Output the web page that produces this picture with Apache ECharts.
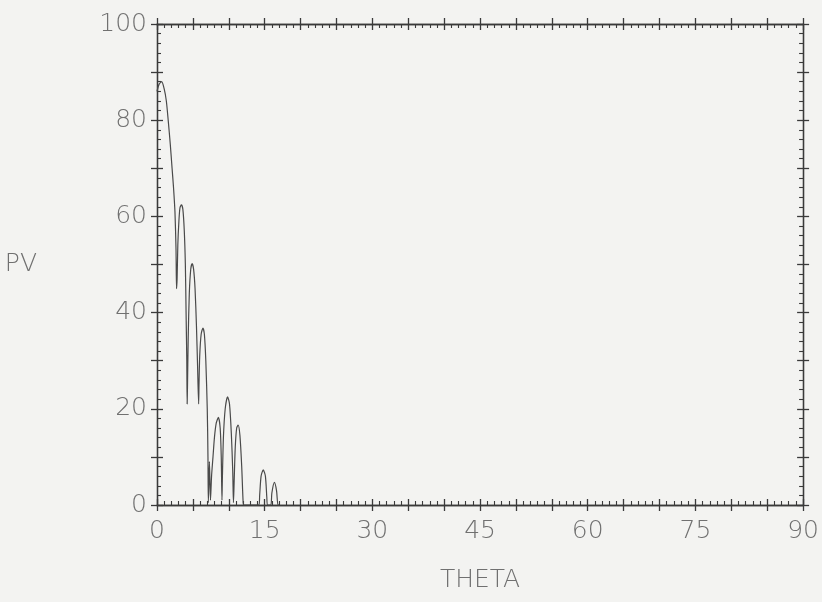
<!DOCTYPE html>
<html>
<head>
<meta charset="utf-8">
<script src="https://cdn.jsdelivr.net/npm/echarts@6/dist/echarts.min.js"></script>
<style>
  html, body { margin: 0; padding: 0; background: #f3f3f1; }
  #chart { width: 822px; height: 602px; }
</style>
</head>
<body>
<div id="chart"></div>
<script>
// Angle (degrees) and PV readings along the trace
const theta = [
  0, 0.3, 0.65, 1.0, 1.3, 1.56, 1.85, 2.1, 2.3, 2.5, 2.65, 2.72,
  2.8, 2.9, 3.05, 3.2, 3.4, 3.6, 3.8, 3.95, 4.05, 4.15, 4.2,
  4.25, 4.35, 4.5, 4.7, 4.9, 5.1, 5.3, 5.5, 5.65, 5.8,
  5.85, 5.95, 6.15, 6.4, 6.6, 6.8, 7.0, 7.1, 7.15,
  7.3, 7.45, 7.6, 7.8, 8.0, 8.25, 8.55, 8.8, 8.95, 9.05,
  9.1, 9.25, 9.5, 9.83, 10.1, 10.35, 10.55, 10.65,
  10.75, 10.9, 11.1, 11.3, 11.55, 11.8, 12.0,
  12.1, 14.2,
  14.3, 14.5, 14.8, 15.1, 15.3, 15.4,
  15.85, 16.0, 16.35, 16.65, 16.85, 17.0
];
const pv = [
  86, 87.5, 88, 86.5, 84, 80, 75, 70, 66, 61, 53, 45,
  47, 54, 59, 61.8, 62.4, 61.5, 57, 50, 40, 30, 21,
  25, 35, 44, 49, 50.2, 49, 45, 37, 29, 21,
  25, 31, 35.5, 36.8, 35.5, 30, 20, 10, 0.5,
  9, 1, 6, 10, 14, 17, 18.2, 16, 10, 1,
  5, 14, 20, 22.5, 21, 15, 7, 0.5,
  5, 12, 16, 16.6, 14.5, 8, 0.5,
  0, 0,
  2, 6, 7.3, 6, 1.5, 0,
  0, 2.5, 4.7, 3, 0, 0
];

// Axis ranges and labelled ticks
const xMin = 0, xMax = 90, xStep = 5, xLabelStep = 15;
const yMin = 0, yMax = 100, yStep = 10, yLabelStep = 20;

const ink = '#3a3a3a';
const labelColor = '#707070';
const font = 'DejaVu Sans';

const chart = echarts.init(document.getElementById('chart'), null, { renderer: 'canvas' });

function xAxisDef(pos, inside, showLabel, name) {
  return {
    type: 'value', position: pos, min: xMin, max: xMax, interval: xStep,
    name: name || '', nameLocation: 'middle', nameGap: 63,
    nameTextStyle: { color: labelColor, fontFamily: font, fontWeight: 200, fontSize: 25, letterSpacing: 4 },
    axisLine: { show: true, onZero: false, lineStyle: { color: ink, width: 1.3 } },
    axisTick: { show: true, inside: inside, length: 6, lineStyle: { color: ink, width: 1.3 } },
    minorTick: { show: inside, splitNumber: 5, length: 4, lineStyle: { color: ink, width: 1.1 } },
    axisLabel: {
      show: showLabel, margin: 14, color: labelColor, fontFamily: font, fontWeight: 200, fontSize: 25,
      formatter: v => (v % xLabelStep === 0 ? String(v) : '')
    },
    splitLine: { show: false }
  };
}
function yAxisDef(pos, inside, showLabel, name) {
  return {
    type: 'value', position: pos, min: yMin, max: yMax, interval: yStep,
    name: name || '', nameLocation: 'middle', nameGap: 120, nameRotate: 0,
    nameTextStyle: {
      color: labelColor, fontFamily: font, fontWeight: 200, fontSize: 25, letterSpacing: 3,
      padding: [18, 0, 0, 0]
    },
    axisLine: { show: true, onZero: false, lineStyle: { color: ink, width: 1.3 } },
    axisTick: { show: true, inside: inside, length: 6, lineStyle: { color: ink, width: 1.3 } },
    minorTick: { show: inside, splitNumber: 5, length: 4, lineStyle: { color: ink, width: 1.1 } },
    axisLabel: {
      show: showLabel, margin: 10, color: labelColor, fontFamily: font, fontWeight: 200, fontSize: 25,
      formatter: v => (v % yLabelStep === 0 ? String(v) : '')
    },
    splitLine: { show: false }
  };
}

chart.setOption({
  backgroundColor: '#f3f3f1',
  animation: false,
  grid: { left: 157, right: 15, top: 24, bottom: 97, containLabel: false },
  xAxis: [
    xAxisDef('bottom', true, true, 'THETA'),
    xAxisDef('bottom', false, false),
    xAxisDef('top', true, false),
    xAxisDef('top', false, false)
  ],
  yAxis: [
    yAxisDef('left', true, true, 'PV'),
    yAxisDef('left', false, false),
    yAxisDef('right', true, false),
    yAxisDef('right', false, false)
  ],
  series: [{
    type: 'line',
    xAxisIndex: 0, yAxisIndex: 0,
    data: theta.map((t, i) => [t, pv[i]]),
    showSymbol: false,
    smooth: 0.25,
    lineStyle: { color: '#4a4a4a', width: 1.2 }
  }]
});
</script>
</body>
</html>
